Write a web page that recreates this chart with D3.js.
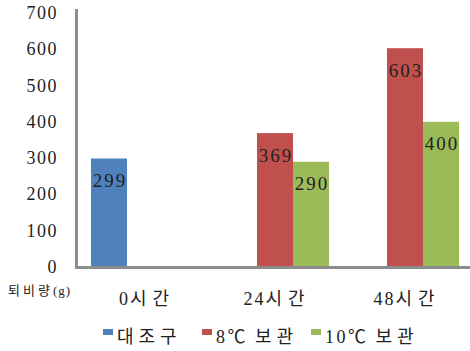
<!DOCTYPE html>
<html>
<head>
<meta charset="utf-8">
<script src="https://cdn.jsdelivr.net/npm/d3@7"></script>
<style>
  body { margin: 0; background: #fff; }
  text { font-family: "Liberation Serif", "Noto Sans CJK KR", serif; fill: #222; }
</style>
</head>
<body>
<svg width="470" height="351"></svg>
<script>
let categories = ["0시간", "24시간", "48시간"]
let series = ["대조구", "8℃ 보관", "10℃ 보관"]
let colors = ["#4f81bd", "#c0504d", "#9bbb59"]
// values per series, one per category (null = no bar)
let control = [299, null, null]
let store8 = [null, 369, 603]
let store10 = [null, 290, 400]
let yTicks = [0, 100, 200, 300, 400, 500, 600, 700]
let yTitle = "퇴비량(g)"

let values = [control, store8, store10]

let svg = d3.select("svg")

// hangul gets wide spacing, digits/latin stay tighter
function spaced(sel, sp, sp2) {
  sel.selectAll("tspan")
    .data(d => d.match(/[\uAC00-\uD7A3]+|[^\uAC00-\uD7A3]+/g))
    .enter()
    .append("tspan")
    .attr("letter-spacing", r => /[\uAC00-\uD7A3]/.test(r) ? sp : sp2)
    .text(r => r)
}

let x0 = d3.scaleBand()
  .domain(categories)
  .range([78, 472])
  .paddingInner(0.169)
  .paddingOuter(0.1)

let x1 = d3.scaleBand()
  .domain(series)
  .range([0, x0.bandwidth()])

let y = d3.scaleLinear()
  .domain([0, 700])
  .range([267, 13])

// bars
let bars = []
categories.forEach((c, ci) => {
  series.forEach((s, si) => {
    let v = values[si][ci]
    if (v != null) bars.push({c: c, s: s, si: si, v: v})
  })
})

svg.selectAll("rect.bar")
  .data(bars)
  .enter()
  .append("rect")
  .attr("class", "bar")
  .attr("x", d => x0(d.c) + x1(d.s))
  .attr("width", x1.bandwidth())
  .attr("y", d => y(d.v))
  .attr("height", d => y(0) - y(d.v))
  .attr("fill", d => colors[d.si])

svg.selectAll("text.val")
  .data(bars)
  .enter()
  .append("text")
  .attr("class", "val")
  .attr("x", d => x0(d.c) + x1(d.s) + x1.bandwidth() / 2 + 1)
  .attr("y", d => y(d.v) + 22)
  .attr("text-anchor", "middle")
  .attr("dominant-baseline", "central")
  .attr("font-size", 19)
  .attr("letter-spacing", 2)
  .text(d => d.v)

// axes
svg.append("line")
  .attr("x1", 76.5).attr("x2", 76.5)
  .attr("y1", 9).attr("y2", 268)
  .attr("stroke", "#8c8c8c").attr("stroke-width", 3)
svg.append("line")
  .attr("x1", 75).attr("x2", 470)
  .attr("y1", 267.5).attr("y2", 267.5)
  .attr("stroke", "#8c8c8c").attr("stroke-width", 3)

svg.selectAll("text.ytick")
  .data(yTicks)
  .enter()
  .append("text")
  .attr("class", "ytick")
  .attr("x", 58)
  .attr("y", d => y(d))
  .attr("text-anchor", "end")
  .attr("dominant-baseline", "central")
  .attr("font-size", 18)
  .attr("letter-spacing", 1.5)
  .text(d => d)

svg.selectAll("text.ytitle")
  .data([yTitle])
  .enter()
  .append("text")
  .attr("class", "ytitle")
  .attr("x", 8)
  .attr("y", 290)
  .attr("dominant-baseline", "central")
  .attr("font-size", 13)
  .call(spaced, 3, 1)

svg.selectAll("text.xtick")
  .data(categories)
  .enter()
  .append("text")
  .attr("class", "xtick")
  .attr("x", d => x0(d) + x0.bandwidth() / 2 + 2)
  .attr("y", 299)
  .attr("text-anchor", "middle")
  .attr("dominant-baseline", "central")
  .attr("font-size", 18)
  .call(spaced, 6, 2)

// legend
let legendX = [103, 202, 311]
let lg = svg.selectAll("g.leg")
  .data(series)
  .enter()
  .append("g")
  .attr("class", "leg")
  .attr("transform", (d, i) => `translate(${legendX[i]},329)`)
lg.append("rect")
  .attr("width", 10).attr("height", 6)
  .attr("fill", (d, i) => colors[i])
lg.append("text")
  .attr("x", 14)
  .attr("y", 8)
  .attr("dominant-baseline", "central")
  .attr("font-size", 18)
  .call(spaced, 5, 2.5)
</script>
</body>
</html>
